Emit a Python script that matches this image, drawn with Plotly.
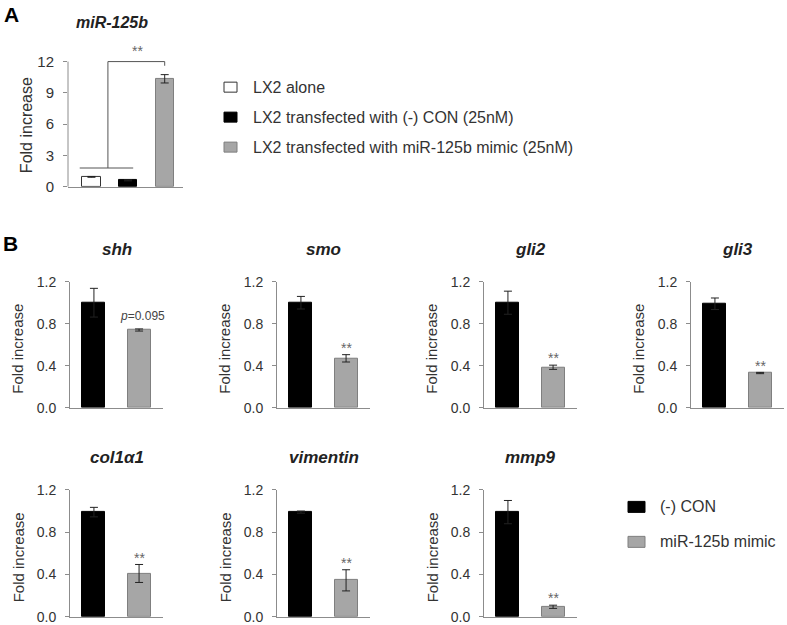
import plotly.graph_objects as go

W, H = 787, 625
FONT = "Liberation Sans, Arial, sans-serif"
AXIS_COLOR = "#8c8c8c"
TEXT_COLOR = "#333333"

# ---------------- Panel A data ----------------
a_title = "miR-125b"
a_groups = ["LX2 alone",
            "LX2 transfected with (-) CON (25nM)",
            "LX2 transfected with miR-125b mimic (25nM)"]
a_values = [0.95, 0.62, 10.35]
a_errors = [0.04, 0.05, 0.40]
a_fill = ["#ffffff", "#000000", "#a6a6a6"]
a_edge = ["#333333", "#000000", "#7f7f7f"]
a_ticks = [0, 3, 6, 9, 12]
a_sig = "**"
a_bracket_low = 1.8     # level of the line joining the two control groups

# ---------------- Panel B data ----------------
genes = ["shh", "smo", "gli2", "gli3", "col1α1", "vimentin", "mmp9"]
b_series = ["(-) CON", "miR-125b mimic"]
con_values = [1.00, 1.00, 1.00, 0.99, 0.99, 0.99, 0.99]
con_errors = [0.137, 0.06, 0.11, 0.055, 0.045, 0.01, 0.11]
mimic_values = [0.74, 0.47, 0.385, 0.33, 0.41, 0.345, 0.095]
mimic_errors = [0.01, 0.035, 0.02, 0.006, 0.085, 0.10, 0.015]
sig_labels = ["<i>p</i>=0.095", "**", "**", "**", "**", "**", "**"]
b_ticks = [0.0, 0.4, 0.8, 1.2]
b_fill = ["#000000", "#a6a6a6"]
b_edge = ["#000000", "#7f7f7f"]

# ---------------- layout geometry (target pixels in the picture) ----------------
A_X = (68, 183)
A_Y0, A_PX_PER_UNIT = 186.7, 10.44
A_YMAX = 13.5
B_W = 93
B_LEFT = [70, 277, 484, 691, 70, 277, 484]
B_ROW_Y = [(407.7, 281.7), (617.0, 490.0)]   # (y of 0.0, y of 1.2)

# vertical calibration of the photographed page (picture y = Y_OFF + Y_SCALE * page y)
Y_OFF, Y_SCALE = 7.8, 0.975


def px_x(x):
    return x / W


def px_y(y):
    page_y = (y - Y_OFF) / Y_SCALE
    return min(1.0, max(0.0, 1 - page_y / H))


def text_ann(x, y, text, size, color=TEXT_COLOR, **kw):
    d = dict(xref="paper", yref="paper", x=px_x(x), y=px_y(y), text=text,
             showarrow=False, xanchor="center", yanchor="middle",
             font=dict(size=size, color=color, family=FONT))
    d.update(kw)
    return d


fig = go.Figure()
annotations = []
shapes = []

# ---------------- Panel A ----------------
fig.add_trace(go.Bar(
    x=list(range(len(a_values))), y=a_values, width=0.5,
    marker=dict(color=a_fill, line=dict(color=a_edge, width=1)),
    error_y=dict(type="data", array=a_errors, color="#222222", thickness=1, width=4),
    xaxis="x", yaxis="y", showlegend=False, hoverinfo="skip"))

a_top_px = A_Y0 - A_YMAX * A_PX_PER_UNIT
layout_axes = dict(
    xaxis=dict(domain=[px_x(A_X[0]), px_x(A_X[1])], range=[-0.64, 2.5],
               showline=True, linecolor=AXIS_COLOR, linewidth=1,
               showticklabels=False, ticks="", showgrid=False, zeroline=False,
               anchor="y", fixedrange=True),
    yaxis=dict(domain=[px_y(A_Y0), px_y(a_top_px)], range=[0, A_YMAX],
               tickvals=a_ticks, ticktext=[str(t) for t in a_ticks],
               ticks="outside", ticklen=4, tickcolor=AXIS_COLOR, showline=False,
               showgrid=False, zeroline=False, anchor="x", fixedrange=True,
               tickfont=dict(size=15, color=TEXT_COLOR, family=FONT),
               ticklabelstandoff=6),
)
# y axis line of panel A (stops at the top tick)
shapes.append(dict(type="line", xref="paper", yref="y",
                   x0=px_x(A_X[0]), x1=px_x(A_X[0]), y0=0, y1=a_ticks[-1],
                   line=dict(color=AXIS_COLOR, width=1)))
# significance bracket
mid = 0.45
br = dict(color="#555555", width=1)
shapes.append(dict(type="line", xref="x", yref="y", x0=mid - 0.77, x1=mid + 0.69,
                   y0=a_bracket_low, y1=a_bracket_low, line=br))
shapes.append(dict(type="line", xref="x", yref="y", x0=mid, x1=mid,
                   y0=a_bracket_low, y1=a_ticks[-1], line=br))
shapes.append(dict(type="line", xref="x", yref="y", x0=mid, x1=2,
                   y0=a_ticks[-1], y1=a_ticks[-1], line=br))
shapes.append(dict(type="line", xref="x", yref="y", x0=2, x1=2,
                   y0=a_ticks[-1], y1=a_ticks[-1] - 0.4, line=br))
annotations.append(dict(xref="x", yref="y", x=1.25, y=a_ticks[-1] + 1.0, text=a_sig,
                        showarrow=False, xanchor="center", yanchor="middle",
                        font=dict(size=14, color="#666666", family=FONT)))
annotations.append(text_ann(112, 22, "<b><i>%s</i></b>" % a_title, 16, "#222222"))
annotations.append(text_ann(26, 125, "Fold increase", 16, textangle=-90))
annotations.append(text_ann(11, 14, "<b>A</b>", 21, "#000000"))
# legend A
leg_a_y = [87, 117, 147]
for name, fc, ec, yy in zip(a_groups, a_fill, a_edge, leg_a_y):
    shapes.append(dict(type="rect", xref="paper", yref="paper",
                       x0=px_x(224), x1=px_x(237), y0=px_y(yy + 5), y1=px_y(yy - 5),
                       fillcolor=fc, line=dict(color=ec, width=1)))
    annotations.append(text_ann(251, yy, name, 16, xanchor="left"))

# ---------------- Panel B ----------------
for i, gene in enumerate(genes):
    k = i + 2
    row = 0 if i < 4 else 1
    y0px, y1px = B_ROW_Y[row]
    x0 = B_LEFT[i]
    xa, ya = "x%d" % k, "y%d" % k
    fig.add_trace(go.Bar(
        x=[0, 1], y=[con_values[i], mimic_values[i]], width=0.51,
        marker=dict(color=b_fill, line=dict(color=b_edge, width=1)),
        error_y=dict(type="data", array=[con_errors[i], mimic_errors[i]],
                     color="#222222", thickness=1, width=4),
        xaxis=xa, yaxis=ya, showlegend=False, hoverinfo="skip"))
    layout_axes["xaxis%d" % k] = dict(
        domain=[px_x(x0), px_x(x0 + B_W)], range=[-0.53, 1.53],
        showline=True, linecolor=AXIS_COLOR, linewidth=1, showticklabels=False,
        ticks="", showgrid=False, zeroline=False, anchor=ya, fixedrange=True)
    layout_axes["yaxis%d" % k] = dict(
        domain=[px_y(y0px), px_y(y1px)], range=[0, 1.2],
        tickvals=b_ticks, ticktext=["%.1f" % t for t in b_ticks],
        ticks="outside", ticklen=4, tickcolor=AXIS_COLOR, showline=True,
        linecolor=AXIS_COLOR, linewidth=1, showgrid=False, zeroline=False,
        anchor=xa, fixedrange=True, ticklabelstandoff=6,
        tickfont=dict(size=14, color=TEXT_COLOR, family=FONT))
    annotations.append(text_ann(x0 + B_W / 2, y1px - 32, "<b><i>%s</i></b>" % gene,
                                17, "#222222"))
    annotations.append(text_ann(x0 - 52, (y0px + y1px) / 2 + 4, "Fold increase", 15,
                                textangle=-90))
    top = mimic_values[i] + mimic_errors[i]
    lab = sig_labels[i]
    if lab == "**":
        annotations.append(dict(xref=xa, yref=ya, x=1, y=top + 0.065, text=lab,
                                showarrow=False, xanchor="center", yanchor="middle",
                                font=dict(size=14, color="#666666", family=FONT)))
    else:
        annotations.append(dict(xref=xa, yref=ya, x=1.07, y=top + 0.12, text=lab,
                                showarrow=False, xanchor="center", yanchor="middle",
                                font=dict(size=12, color="#444444", family=FONT)))

annotations.append(text_ann(10, 243, "<b>B</b>", 21, "#000000"))
# legend B
leg_b_y = [507, 542]
for name, fc, ec, yy in zip(b_series, b_fill, b_edge, leg_b_y):
    shapes.append(dict(type="rect", xref="paper", yref="paper",
                       x0=px_x(628), x1=px_x(645), y0=px_y(yy + 5.5), y1=px_y(yy - 5.5),
                       fillcolor=fc, line=dict(color=ec, width=1)))
    annotations.append(text_ann(658, yy, name, 16, xanchor="left"))

fig.update_layout(
    width=W, height=H, margin=dict(l=0, r=0, t=0, b=0),
    paper_bgcolor="white", plot_bgcolor="white",
    font=dict(family=FONT, color=TEXT_COLOR),
    bargap=0, showlegend=False,
    annotations=annotations, shapes=shapes,
    **layout_axes)

fig.write_html("out.html", config={"displayModeBar": False},
               post_script="document.body.style.margin='0px';"
                           "document.documentElement.style.overflow='hidden';")
